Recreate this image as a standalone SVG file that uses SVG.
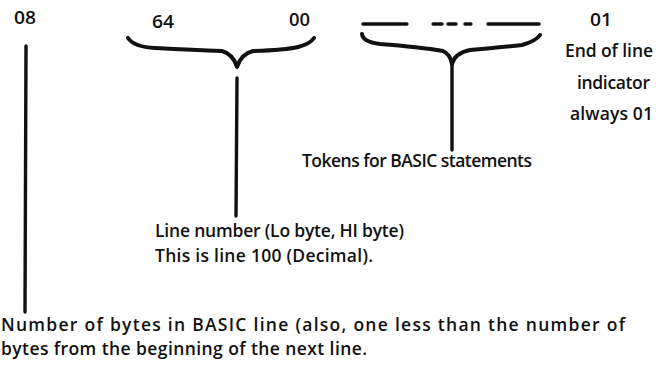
<svg xmlns="http://www.w3.org/2000/svg" width="660" height="370" viewBox="0 0 660 370">
<style>
text{font-family:"Open Sans","Liberation Sans",Arial,sans-serif;font-size:17.5px;fill:#111;font-weight:600}
.ln{stroke:#111;stroke-width:3.4;fill:none;stroke-linecap:round;stroke-linejoin:round}
.br{stroke:#111;stroke-width:4;fill:none;stroke-linecap:round;stroke-linejoin:round}
</style>
<rect width="660" height="370" fill="#fff"/>
<g id="n08"><text x="14" y="24" textLength="22" lengthAdjust="spacingAndGlyphs">08</text></g>
<g id="n64"><text x="152" y="28" textLength="22" lengthAdjust="spacingAndGlyphs">64</text></g>
<g id="n00"><text x="289" y="26" textLength="21" lengthAdjust="spacingAndGlyphs">00</text></g>
<g id="ndash">
<line class="ln" x1="363" y1="24" x2="407" y2="24"/>
<line class="ln" x1="433" y1="24" x2="442" y2="24"/>
<line class="ln" x1="448" y1="24" x2="456" y2="24"/>
<line class="ln" x1="465" y1="24" x2="471" y2="24"/>
<line class="ln" x1="488" y1="24" x2="539" y2="24"/>
</g>
<g id="n01"><text x="590" y="26" textLength="22" lengthAdjust="spacingAndGlyphs">01</text></g>
<g id="endline">
<text x="565" y="57" textLength="88" lengthAdjust="spacing">End of line</text>
<text x="577" y="89" textLength="73" lengthAdjust="spacing">indicator</text>
<text x="570" y="120" textLength="83" lengthAdjust="spacing">always 01</text>
</g>
<g id="tokens"><text x="302" y="167" textLength="230" lengthAdjust="spacing">Tokens for BASIC statements</text></g>
<g id="linenum">
<text x="155" y="237" textLength="249" lengthAdjust="spacing">Line number (Lo byte, HI byte)</text>
<text x="155" y="262" textLength="218" lengthAdjust="spacing">This is line 100 (Decimal).</text>
</g>
<g id="numbytes">
<text x="1" y="331" textLength="624" lengthAdjust="spacing">Number of bytes in BASIC line (also, one less than the number of</text>
<text x="1" y="355" textLength="366" lengthAdjust="spacing">bytes from the beginning of the next line.</text>
</g>
<g id="connectors">
<path class="ln" d="M26 46 L25 312"/>
<path class="br" d="M128 38 Q134 47 155 48 Q195 50 222 51 Q233 54 237 67 Q241 54 253 51 Q285 50 298 47 Q310 44 314 38"/>
<line class="ln" x1="237" y1="78" x2="236" y2="216"/>
<path class="br" d="M362 34 Q363 42 380 44 Q420 47 443 51 Q450 54 452 64 Q455 53 470 50 Q505 47 522 45 Q536 41 540 35"/>
<line class="ln" x1="452" y1="64" x2="452" y2="150"/>
</g>
</svg>
